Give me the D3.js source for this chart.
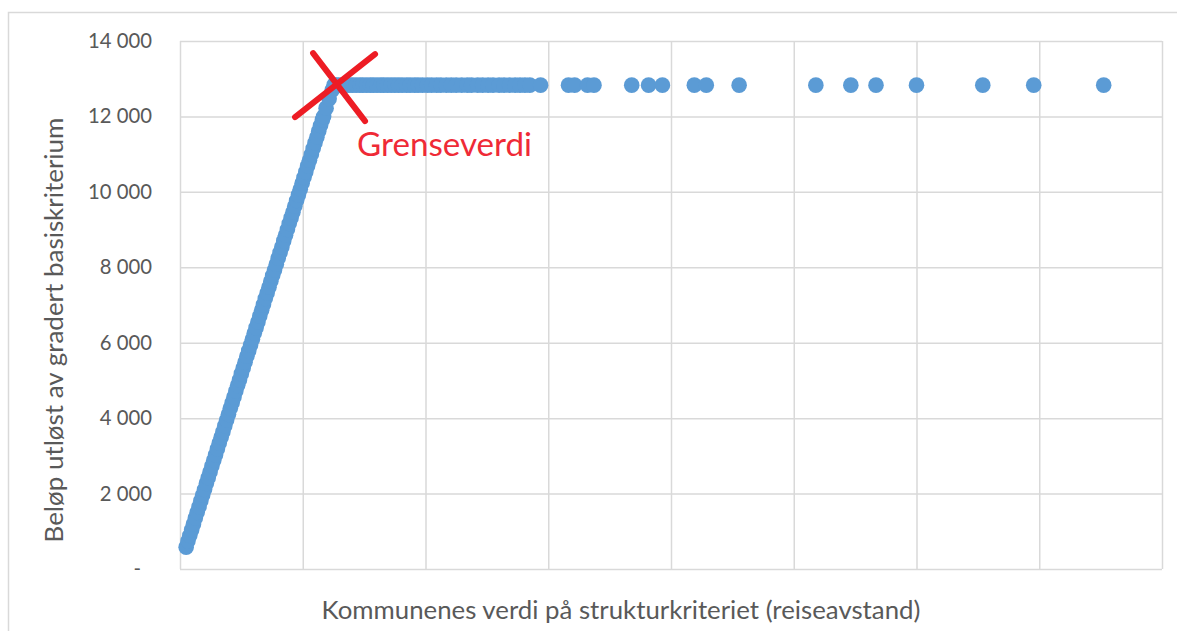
<!DOCTYPE html>
<html>
<head>
<meta charset="utf-8">
<script src="https://cdn.jsdelivr.net/npm/d3@7"></script>
<style>
  body { margin: 0; background: #fff; }
  svg { display: block; }
  text { font-family: Lato, "Open Sans", sans-serif; fill: #595959; }
</style>
</head>
<body>
<div id="chart"></div>
<script>
// Reiseavstand (km) og beløp (1000 kr) per kommune, lest av figuren
const slope = [
  [1.0, 580], [1.3, 740], [1.6, 890], [1.9, 1040], [2.2, 1190], [2.5, 1350], [2.8, 1500],
  [3.1, 1650], [3.4, 1810], [3.7, 1960], [4.0, 2110], [4.3, 2270], [4.6, 2420], [4.9, 2570],
  [5.2, 2730], [5.5, 2880], [5.8, 3030], [6.1, 3190], [6.4, 3340], [6.7, 3490], [7.0, 3640],
  [7.3, 3800], [7.6, 3950], [7.9, 4100], [8.2, 4260], [8.5, 4410], [8.8, 4560], [9.1, 4720],
  [9.4, 4870], [9.7, 5020], [10.0, 5180], [10.3, 5330], [10.6, 5480], [10.9, 5640], [11.2, 5790],
  [11.5, 5940], [11.8, 6090], [12.1, 6250], [12.4, 6400], [12.7, 6550], [13.0, 6710], [13.3, 6860],
  [13.6, 7010], [13.9, 7170], [14.2, 7320], [14.5, 7470], [14.8, 7630], [15.1, 7780], [15.4, 7930],
  [15.7, 8080], [16.0, 8240], [16.3, 8390], [16.6, 8540], [16.9, 8700], [17.2, 8850], [17.5, 9000],
  [17.8, 9160], [18.1, 9310], [18.4, 9460], [18.7, 9620], [19.0, 9770], [19.3, 9920], [19.6, 10070],
  [19.9, 10230], [20.2, 10380], [20.5, 10530], [20.8, 10690], [21.1, 10840], [21.4, 10990],
  [21.7, 11150], [22.0, 11300], [22.3, 11450], [22.6, 11610], [22.9, 11760], [23.2, 11910],
  [23.4, 12000], [23.8, 12220], [24.3, 12470], [24.8, 12700], [25.1, 12830]
];

// Kommuner over grenseverdien får fullt beløp
const capValue = 12830;
const capped = [
  25.4, 25.9, 26.5, 27.0, 27.6, 28.1, 28.7, 29.3, 29.8, 30.4, 31.0, 31.5, 32.1, 32.7, 33.2,
  33.8, 34.4, 35.0, 35.6, 36.2, 36.9, 37.5, 38.2, 38.8, 39.5, 40.3, 41.0, 41.8, 42.5, 43.4,
  44.2, 45.0, 45.9, 46.8, 47.5, 48.5, 49.3, 50.2, 51.0, 52.0, 52.8, 53.7, 54.6, 55.4, 56.2, 57.0,
  58.75, 63.3, 64.3, 66.4, 67.45, 73.6, 76.35, 78.6, 83.8, 85.75, 91.1, 103.6, 109.3,
  113.4, 120.0, 130.8, 139.1, 150.5
];

const points = slope.map(d => ({ x: d[0], y: d[1] }))
  .concat(capped.map(x => ({ x: x, y: capValue })));

const grense = { x: 25.1, y: capValue };

const width = 1177;
const height = 631;
const margin = { top: 41, right: 15, bottom: 62, left: 180 };

const svg = d3.select('#chart')
  .append('svg')
  .attr('width', width)
  .attr('height', height);

// Diagramramme
svg.append('rect')
  .attr('x', 8.5).attr('y', 12.5)
  .attr('width', width + 20).attr('height', height + 20)
  .attr('fill', 'none')
  .attr('stroke', '#d9d9d9')
  .attr('stroke-width', 1.5);

const x = d3.scaleLinear().domain([0, 160]).range([margin.left, width - margin.right]);
const y = d3.scaleLinear().domain([0, 14000]).range([height - margin.bottom, margin.top]);

// Rutenett
svg.append('g')
  .attr('transform', 'translate(0,' + (height - margin.bottom) + ')')
  .call(d3.axisBottom(x).tickValues(d3.range(0, 161, 20)).tickSize(-(height - margin.bottom - margin.top)).tickFormat(''))
  .call(g => g.select('.domain').remove())
  .call(g => g.selectAll('line').attr('stroke', '#d9d9d9').attr('stroke-width', 1.5));

const locale = d3.formatLocale({ decimal: ',', thousands: ' ', grouping: [3], currency: ['', ' kr'] });
const fmt = locale.format(',d');

const yAxis = svg.append('g')
  .attr('transform', 'translate(' + margin.left + ',0)')
  .call(d3.axisLeft(y).tickValues(d3.range(0, 14001, 2000))
    .tickSize(-(width - margin.left - margin.right))
    .tickPadding(28)
    .tickFormat(d => d === 0 ? '-' : fmt(d)))
  .call(g => g.select('.domain').remove())
  .call(g => g.selectAll('line').attr('stroke', '#d9d9d9').attr('stroke-width', 1.5));

// Tilpass skriftstørrelse til bredden i originalen
function fitText(sel, target) {
  sel.style('font-size', '20px');
  const len = sel.node().getComputedTextLength();
  sel.style('font-size', (20 * target / len) + 'px');
}

const tickSize = (function () {
  const t = yAxis.selectAll('.tick text').filter(d => d === 14000);
  fitText(t, 64);
  return t.style('font-size');
})();

yAxis.selectAll('.tick text')
  .attr('font-family', null)
  .style('font-size', tickSize)
  .attr('fill', '#595959')
  .attr('dx', d => d === 0 ? -11 : 0);

// Punktene
svg.append('g')
  .selectAll('circle')
  .data(points)
  .enter()
  .append('circle')
  .attr('cx', d => x(d.x))
  .attr('cy', d => y(d.y))
  .attr('r', 7.8)
  .attr('fill', '#5b9bd5');

// Kryss ved grenseverdien
const gx = x(grense.x);
const gy = y(grense.y);
const cross = [
  [[-21, -32], [31, 36]],
  [[-39, 32], [41, -31]]
];
svg.append('g')
  .selectAll('line')
  .data(cross)
  .enter()
  .append('line')
  .attr('x1', d => gx + d[0][0]).attr('y1', d => gy + d[0][1])
  .attr('x2', d => gx + d[1][0]).attr('y2', d => gy + d[1][1])
  .attr('stroke', '#ed1c24')
  .attr('stroke-width', 6)
  .attr('stroke-linecap', 'round');

const label = svg.append('text')
  .attr('x', gx + 23)
  .attr('y', gy + 71)
  .style('fill', '#ef2a36')
  .text('Grenseverdi');
fitText(label, 175);

// Aksetitler
const yTitle = svg.append('text')
  .attr('transform', 'translate(53,330) rotate(-90)')
  .attr('text-anchor', 'middle')
  .attr('dominant-baseline', 'central')
  .text('Beløp utløst av gradert basiskriterium');
fitText(yTitle, 425);

const xTitle = svg.append('text')
  .attr('x', 621)
  .attr('y', 609)
  .attr('text-anchor', 'middle')
  .attr('dominant-baseline', 'central')
  .text('Kommunenes verdi på strukturkriteriet (reiseavstand)');
fitText(xTitle, 599);
</script>
</body>
</html>
